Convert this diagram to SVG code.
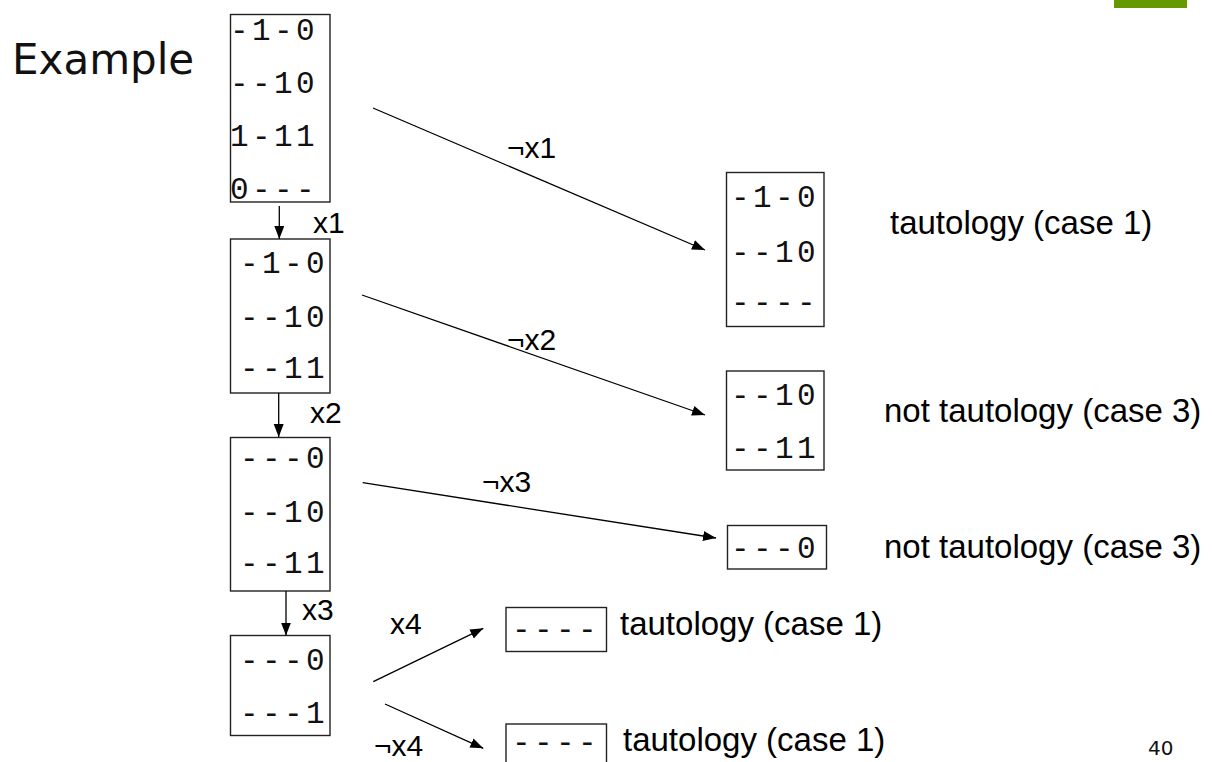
<svg xmlns="http://www.w3.org/2000/svg" width="1214" height="762" viewBox="0 0 1214 762">
<style>
.box{fill:#fff;stroke:#222;stroke-width:1.4}
.mono{font-family:"Liberation Mono","Courier New",monospace;font-size:31px;letter-spacing:3.4px;fill:#111}
.lbl{font-family:"Liberation Sans",Arial,sans-serif;font-size:30px;fill:#000}
.note{font-family:"Liberation Sans",Arial,sans-serif;font-size:33px;fill:#000}
.conn line{stroke:#000;stroke-width:1.3;marker-end:url(#ah)}
</style>
<defs>
<marker id="ah" markerUnits="userSpaceOnUse" markerWidth="14" markerHeight="12" refX="13" refY="5" orient="auto">
<path d="M0,0 L13,5 L0,10 z" fill="#000"/>
</marker>
</defs>
<rect x="1114" y="0" width="73" height="8" fill="#669900"/>
<text x="12" y="74" font-family="'DejaVu Sans',Verdana,sans-serif" font-size="42" fill="#111">Example</text>
<text x="1148" y="755" font-family="'DejaVu Sans',Verdana,sans-serif" font-size="20" fill="#111">40</text>

<g id="n1">
<rect class="box" x="230.5" y="14.5" width="99.5" height="187.5"/>
<text class="mono" x="230" y="40">-1-0</text>
<text class="mono" x="230" y="93">--10</text>
<text class="mono" x="230" y="146">1-11</text>
<text class="mono" x="230" y="199">0---</text>
</g>
<g id="n2">
<rect class="box" x="230.5" y="239" width="99.5" height="154"/>
<text class="mono" x="240" y="273">-1-0</text>
<text class="mono" x="240" y="327">--10</text>
<text class="mono" x="240" y="378">--11</text>
</g>
<g id="n3">
<rect class="box" x="230.5" y="437.5" width="99.5" height="153.5"/>
<text class="mono" x="240" y="468">---0</text>
<text class="mono" x="240" y="522">--10</text>
<text class="mono" x="240" y="573">--11</text>
</g>
<g id="n4">
<rect class="box" x="230.5" y="635.5" width="99.5" height="100"/>
<text class="mono" x="240" y="670">---0</text>
<text class="mono" x="240" y="723">---1</text>
</g>
<g id="r1">
<rect class="box" x="726.5" y="172.5" width="97.5" height="154"/>
<text class="mono" x="731" y="207">-1-0</text>
<text class="mono" x="731" y="262">--10</text>
<text class="mono" x="731" y="312">----</text>
<text class="note" x="890" y="234">tautology (case 1)</text>
</g>
<g id="r2">
<rect class="box" x="726.5" y="371" width="97.5" height="99"/>
<text class="mono" x="731" y="405">--10</text>
<text class="mono" x="731" y="458">--11</text>
<text class="note" x="884" y="422">not tautology (case 3)</text>
</g>
<g id="r3">
<rect class="box" x="727.5" y="525.5" width="99" height="43.5"/>
<text class="mono" x="731" y="558">---0</text>
<text class="note" x="884" y="558">not tautology (case 3)</text>
</g>
<g id="r4">
<rect class="box" x="506" y="607.5" width="100.5" height="44"/>
<text class="mono" x="512" y="639">----</text>
<text class="note" x="620" y="635">tautology (case 1)</text>
</g>
<g id="r5">
<rect class="box" x="506" y="724" width="100.5" height="50"/>
<text class="mono" x="512" y="752">----</text>
<text class="note" x="623" y="751">tautology (case 1)</text>
</g>

<g id="connectors" class="conn">
<line x1="279.3" y1="206" x2="279.3" y2="239"/>
<line x1="278.7" y1="393" x2="278.7" y2="437"/>
<line x1="286" y1="591" x2="286" y2="635.5"/>
<line x1="373" y1="108" x2="705" y2="250"/>
<line x1="362" y1="295" x2="705" y2="415"/>
<line x1="362.7" y1="482.7" x2="716" y2="538"/>
<line x1="373.3" y1="681.7" x2="483.3" y2="628.3"/>
<line x1="385" y1="704" x2="483.3" y2="748.3"/>
</g>
<g id="labels">
<text class="lbl" x="313" y="233">x1</text>
<text class="lbl" x="310" y="423">x2</text>
<text class="lbl" x="302" y="620">x3</text>
<text class="lbl" x="507" y="158">¬x1</text>
<text class="lbl" x="507" y="350">¬x2</text>
<text class="lbl" x="482" y="492">¬x3</text>
<text class="lbl" x="390" y="634">x4</text>
<text class="lbl" x="374" y="756">¬x4</text>
</g>
</svg>
